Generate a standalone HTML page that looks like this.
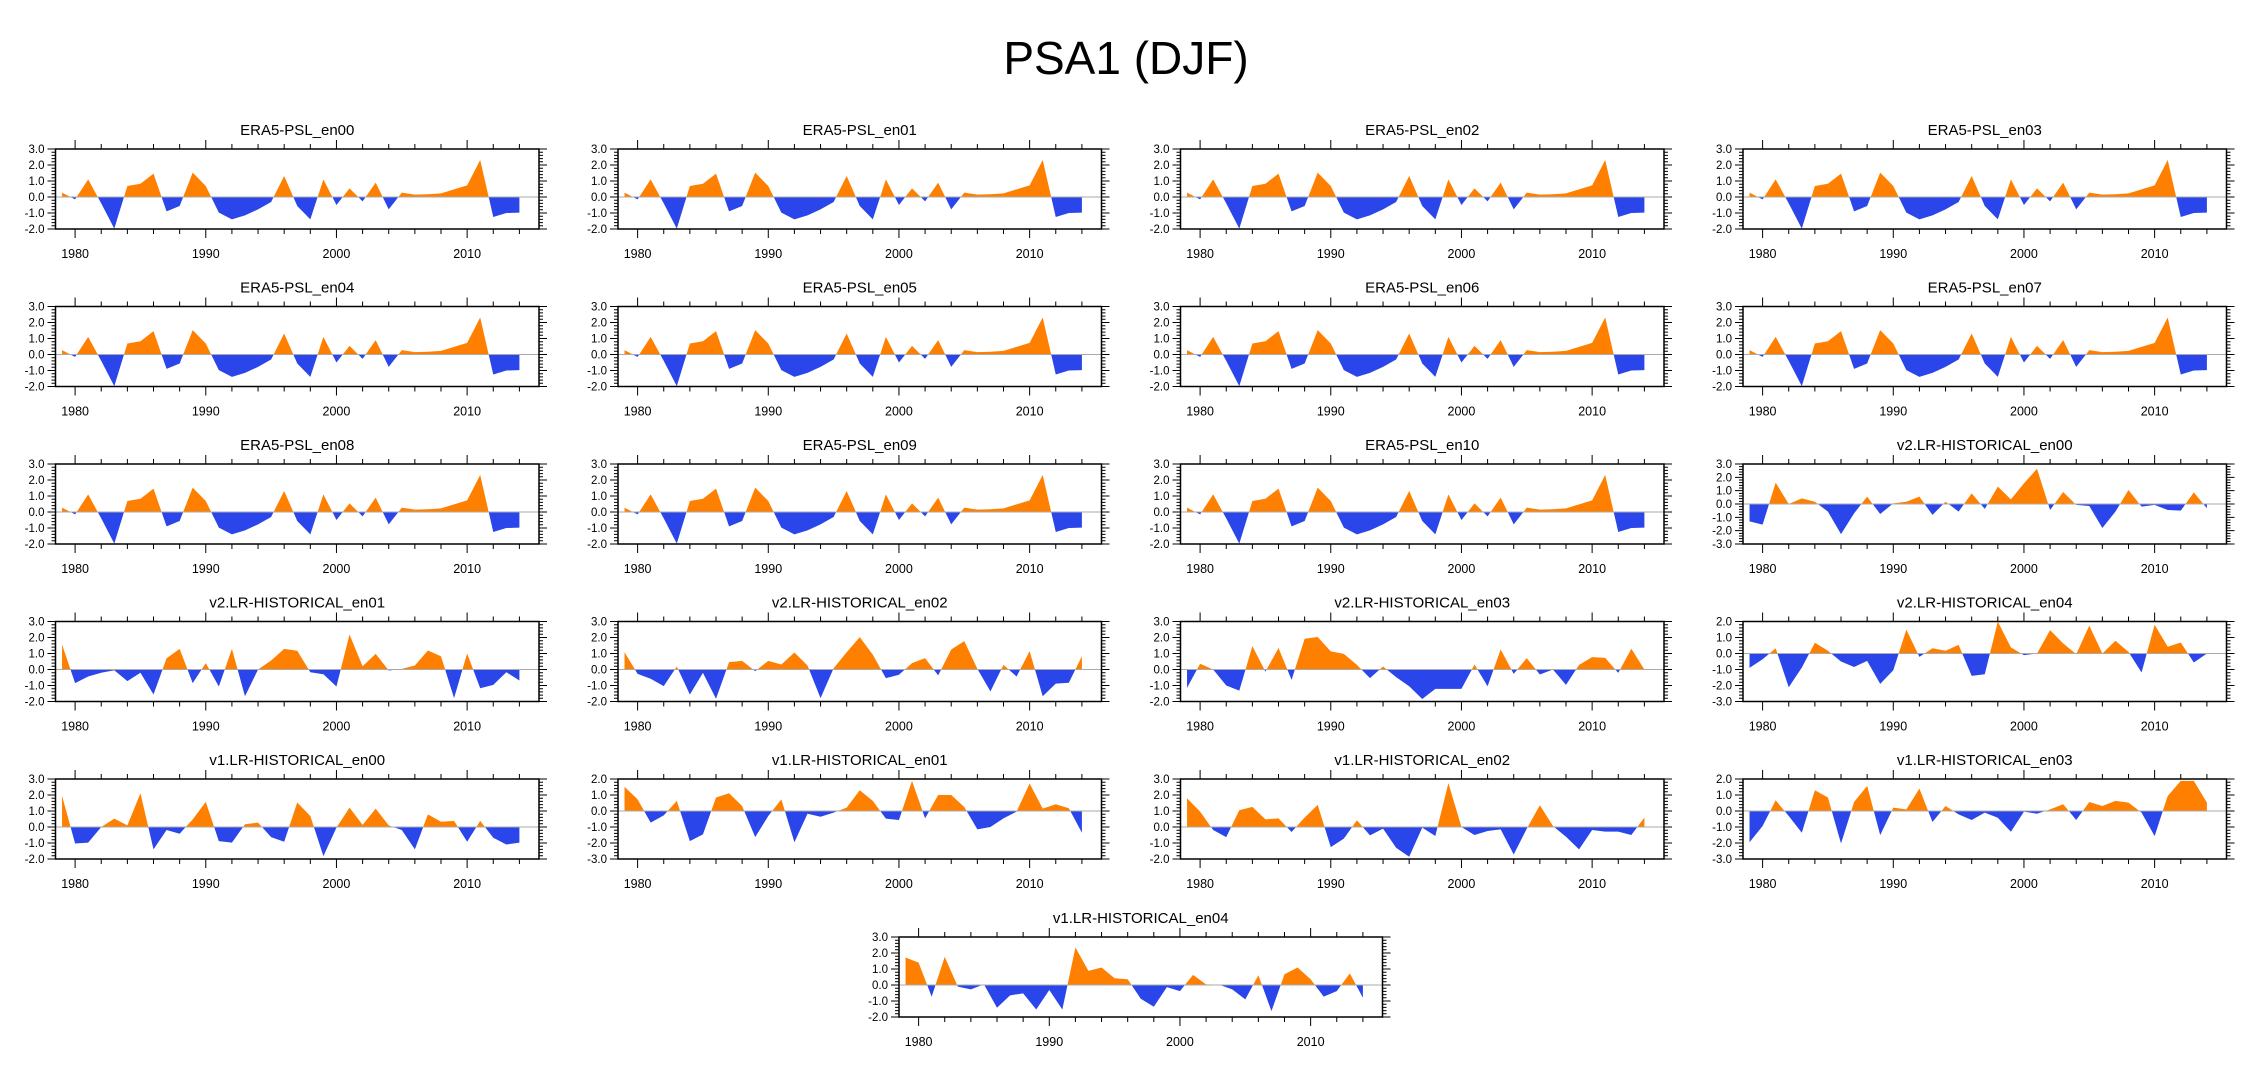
<!DOCTYPE html>
<html><head><meta charset="utf-8">
<style>
html,body{margin:0;padding:0;background:#fff;}
svg{display:block;font-family:"Liberation Sans",Arial,sans-serif;}
</style></head>
<body>
<svg id="fig" width="2252" height="1078" viewBox="0 0 2252 1078" xmlns="http://www.w3.org/2000/svg">
<rect x="0" y="0" width="2252" height="1078" fill="#fff"/>
<text x="1126" y="74" text-anchor="middle" font-size="46" fill="#000">PSA1 (DJF)</text>
</svg>
<script>
const years = [];
for (let y = 1979; y <= 2014; y++) years.push(y);
const xTickYears = [1980, 1990, 2000, 2010];

const era5 = [0.27,-0.15,1.1,-0.4,-1.98,0.69,0.83,1.46,-0.9,-0.56,1.52,0.69,-0.98,-1.4,-1.15,-0.77,-0.31,1.31,-0.56,-1.4,1.1,-0.5,0.54,-0.27,0.9,-0.77,0.27,0.15,0.17,0.23,0.48,0.73,2.31,-1.25,-1.0,-0.98];
const v2en00 = [-1.3,-1.55,1.6,0.0,0.42,0.17,-0.57,-2.26,-0.7,0.55,-0.75,0.05,0.17,0.55,-0.82,0.17,-0.57,0.8,-0.37,1.3,0.35,1.55,2.64,-0.45,0.9,-0.07,-0.15,-1.8,-0.57,1.05,-0.2,-0.07,-0.45,-0.5,0.87,-0.32];
const v2en01 = [1.56,-0.85,-0.44,-0.2,-0.05,-0.73,-0.2,-1.56,0.7,1.29,-0.85,0.4,-1.06,1.29,-1.67,0.0,0.56,1.29,1.17,-0.17,-0.3,-1.06,2.19,0.2,0.98,-0.06,0.04,0.25,1.19,0.83,-1.79,1.0,-1.17,-0.96,-0.17,-0.69];
const v2en02 = [1.08,-0.27,-0.58,-1.04,0.19,-1.56,-0.21,-1.83,0.46,0.54,-0.1,0.54,0.31,1.06,0.25,-1.79,0.08,1.08,2.02,0.92,-0.54,-0.33,0.4,0.71,-0.37,1.25,1.77,0.04,-1.37,0.29,-0.44,1.15,-1.67,-0.88,-0.83,0.83];
const v2en03 = [-1.15,0.36,0.0,-1.0,-1.32,1.46,-0.13,1.34,-0.65,1.92,2.03,1.13,0.98,0.29,-0.54,0.19,-0.48,-1.05,-1.84,-1.21,-1.21,-1.21,0.31,-1.05,1.25,-0.27,0.71,-0.31,0.0,-0.96,0.29,0.77,0.73,-0.21,1.3,0.0];
const v2en04 = [-0.9,-0.36,0.33,-2.11,-0.88,0.67,0.17,-0.5,-0.84,-0.46,-1.9,-1.05,1.49,-0.21,0.33,0.17,0.54,-1.4,-1.3,1.99,0.38,-0.1,0.0,1.46,0.63,-0.04,1.74,0.0,0.8,0.1,-1.19,1.8,0.42,0.69,-0.56,0.0];
const v1en00 = [1.95,-1.03,-0.98,0.0,0.52,0.1,2.11,-1.4,-0.19,-0.42,0.48,1.57,-0.88,-0.98,0.17,0.27,-0.63,-0.92,1.53,0.69,-1.82,-0.04,1.21,0.13,1.15,0.1,-0.19,-1.4,0.79,0.33,0.38,-0.92,0.38,-0.67,-1.09,-0.98];
const v1en01 = [1.51,0.73,-0.73,-0.27,0.63,-1.88,-1.46,0.84,1.11,0.31,-1.63,-0.31,0.73,-1.95,-0.17,-0.36,-0.1,0.21,1.3,0.63,-0.48,-0.56,1.88,-0.46,1.0,1.0,0.25,-1.15,-1.0,-0.46,-0.04,1.72,0.15,0.42,0.17,-1.36];
const v1en02 = [1.8,0.96,-0.19,-0.63,1.05,1.26,0.48,0.54,-0.31,0.59,1.38,-1.26,-0.73,0.42,-0.52,-0.1,-1.3,-1.86,-0.04,-0.56,2.74,0.0,-0.5,-0.25,-0.15,-1.72,-0.1,1.36,0.06,-0.61,-1.4,-0.19,-0.29,-0.29,-0.5,0.59];
const v1en03 = [-1.95,-0.94,0.67,-0.31,-1.36,1.3,0.84,-2.03,0.56,1.57,-1.51,0.21,0.1,1.4,-0.69,0.31,-0.21,-0.56,-0.1,-0.42,-1.3,-0.04,-0.17,0.1,0.42,-0.56,0.56,0.31,0.63,0.52,-0.1,-1.57,0.94,1.88,1.88,0.52];
const v1en04 = [1.72,1.4,-0.73,1.76,-0.1,-0.27,0.04,-1.42,-0.65,-0.52,-1.53,-0.31,-1.53,2.34,0.88,1.09,0.42,0.36,-0.86,-1.36,-0.13,-0.38,0.63,0.04,0.02,-0.27,-0.9,0.61,-1.63,0.67,1.09,0.36,-0.73,-0.38,0.73,-0.8];

const panelTitles = ["ERA5-PSL_en00","ERA5-PSL_en01","ERA5-PSL_en02","ERA5-PSL_en03","ERA5-PSL_en04","ERA5-PSL_en05","ERA5-PSL_en06","ERA5-PSL_en07","ERA5-PSL_en08","ERA5-PSL_en09","ERA5-PSL_en10","v2.LR-HISTORICAL_en00","v2.LR-HISTORICAL_en01","v2.LR-HISTORICAL_en02","v2.LR-HISTORICAL_en03","v2.LR-HISTORICAL_en04","v1.LR-HISTORICAL_en00","v1.LR-HISTORICAL_en01","v1.LR-HISTORICAL_en02","v1.LR-HISTORICAL_en03","v1.LR-HISTORICAL_en04"];
const panelSeries = [era5,era5,era5,era5,era5,era5,era5,era5,era5,era5,era5,v2en00,v2en01,v2en02,v2en03,v2en04,v1en00,v1en01,v1en02,v1en03,v1en04];
const yMaxes = [3,3,3,3,3,3,3,3,3,3,3,3,3,3,3,2,3,2,3,2,3];
const yMins  = [-2,-2,-2,-2,-2,-2,-2,-2,-2,-2,-2,-3,-2,-2,-2,-3,-2,-3,-2,-3,-2];

const NS = "http://www.w3.org/2000/svg";
const svg = document.getElementById("fig");
const colLeft = [55.5, 618, 1180.5, 1743];
const PW = 483.5, PH = 80;
const X0 = 1978.5, X1 = 2015.5;
function mk(tag, attrs, parent) {
  const e = document.createElementNS(NS, tag);
  for (const k in attrs) e.setAttribute(k, attrs[k]);
  (parent || svg).appendChild(e);
  return e;
}

panelSeries.forEach((vals, i) => {
  let left, top;
  if (i < 20) { left = colLeft[i % 4]; top = 149 + 157.5 * Math.floor(i / 4); }
  else { left = 899; top = 937; }
  const ymax = yMaxes[i], ymin = yMins[i];
  const sx = yr => left + (yr - X0) / (X1 - X0) * PW;
  const sy = v => top + (ymax - v) / (ymax - ymin) * PH;
  const g = mk("g", {});
  
  

  const t = mk("text", {x: left + PW / 2, y: top - 14, "text-anchor": "middle", "font-size": 15, fill: "#000"}, g);
  t.textContent = panelTitles[i];
  
  

  // build points with zero crossings
  const pts = [];
  for (let k = 0; k < vals.length; k++) {
    const v = vals[k];
    if (k > 0) {
      const pv = vals[k - 1];
      if ((pv > 0 && v < 0) || (pv < 0 && v > 0)) {
        const f = pv / (pv - v);
        pts.push([years[k - 1] + f, 0]);
      }
    }
    pts.push([years[k], v]);
  }
  const x0 = sx(years[0]), x1 = sx(years[years.length - 1]), yz = sy(0);
  let dp = "M" + x0 + "," + yz, dn = "M" + x0 + "," + yz;
  pts.forEach(p => {
    dp += " L" + sx(p[0]).toFixed(2) + "," + sy(Math.max(p[1], 0)).toFixed(2);
    dn += " L" + sx(p[0]).toFixed(2) + "," + sy(Math.min(p[1], 0)).toFixed(2);
  });
  dp += " L" + x1 + "," + yz + " Z";
  dn += " L" + x1 + "," + yz + " Z";
  const pos = mk("path", {d: dp, fill: "#ff8000", stroke: "none"}, g);
  
  
  const neg = mk("path", {d: dn, fill: "#2a45ea", stroke: "none"}, g);
  
  
  const zl = mk("line", {x1: left, x2: left + PW, y1: yz, y2: yz, stroke: "#aaa", "stroke-width": 1}, g);
  
  

  // ticks
  let td = "";
  for (let yr = 1980; yr <= 2014; yr += 2) {
    const x = sx(yr).toFixed(2), L = (yr % 10 === 0) ? 9 : 5;
    td += "M" + x + "," + (top + PH) + " v" + L + " M" + x + "," + top + " v-" + L + " ";
  }
  for (let v = ymin; v <= ymax + 1e-6; v += 0.2) {
    const vv = Math.round(v * 10) / 10;
    const y = sy(vv).toFixed(2);
    const L = Math.abs(vv - Math.round(vv)) < 1e-6 ? 8 : 4;
    td += "M" + left + "," + y + " h-" + L + " M" + (left + PW) + "," + y + " h" + L + " ";
  }
  const ticks = mk("path", {d: td, stroke: "#000", "stroke-width": 1, fill: "none"}, g);
  
  

  const fr = mk("rect", {x: left, y: top, width: PW, height: PH, fill: "none", stroke: "#000", "stroke-width": 1.5}, g);
  
  

  for (let v = ymin; v <= ymax; v++) {
    const lt = mk("text", {x: left - 11, y: sy(v) + 4, "text-anchor": "end", "font-size": 11.5, fill: "#000"}, g);
    lt.textContent = v.toFixed(1);
    
    
  }
  xTickYears.forEach(yr => {
    const xt = mk("text", {x: sx(yr), y: top + PH + 29, "text-anchor": "middle", "font-size": 12.5, fill: "#000"}, g);
    xt.textContent = String(yr);
    
    
  });
});
</script>
</body></html>
